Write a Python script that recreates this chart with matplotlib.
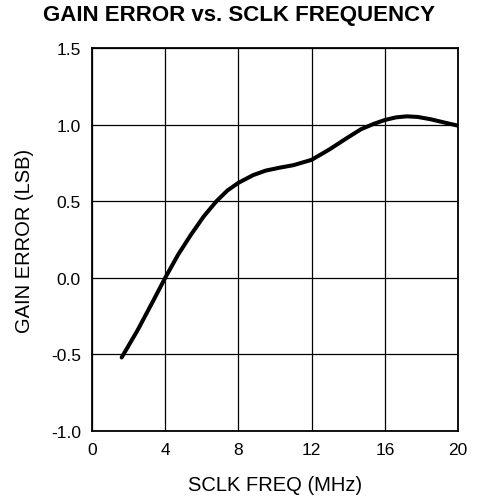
import matplotlib
matplotlib.use("Agg")
import matplotlib.pyplot as plt
import numpy as np

plt.rcParams['font.family'] = ['Liberation Sans', 'DejaVu Sans']

# curve
freq_mhz = [1.62, 2.5, 3.3, 4.0, 4.7, 5.4, 6.1, 6.8, 7.4, 8.0, 8.8, 9.5, 10.3, 11.0, 12.0,
            13.0, 13.9, 14.7, 15.4, 16.0, 16.6, 17.2, 17.8, 18.5, 19.2, 20.0]
gain_err = [-0.52, -0.34, -0.16, 0.0, 0.15, 0.28, 0.40, 0.50, 0.57, 0.62, 0.67, 0.70, 0.72,
            0.735, 0.77, 0.84, 0.91, 0.97, 1.005, 1.03, 1.047, 1.054, 1.05, 1.035, 1.015, 0.993]

x_ticks = [0, 4, 8, 12, 16, 20]
y_ticks = [-1.0, -0.5, 0.0, 0.5, 1.0, 1.5]

fig = plt.figure(figsize=(4.8, 5.02), dpi=100)
ax = fig.add_axes([0.1917, 0.1394, 0.7625, 0.763])

ax.plot(freq_mhz, gain_err, color='black', linewidth=2.9, solid_capstyle='round')

ax.set_xlim(0, 20)
ax.set_ylim(-1.0, 1.5)
ax.set_xticks(x_ticks)
ax.set_yticks(y_ticks)
ax.set_yticklabels([f'{v:.1f}' for v in y_ticks])
ax.grid(True, color='black', linewidth=0.9)
ax.tick_params(length=0, labelsize=12.5, pad=8)
for s in ax.spines.values():
    s.set_linewidth(1.3)

ax.set_xlabel('SCLK FREQ (MHz)', fontsize=14.5, labelpad=13)
ax.set_ylabel('GAIN ERROR (LSB)', fontsize=14.5, labelpad=12)
fig.suptitle('GAIN ERROR vs. SCLK FREQUENCY', fontsize=16, fontweight='bold',
             x=0.497, y=0.99)

fig.savefig('out.png', dpi=100)
